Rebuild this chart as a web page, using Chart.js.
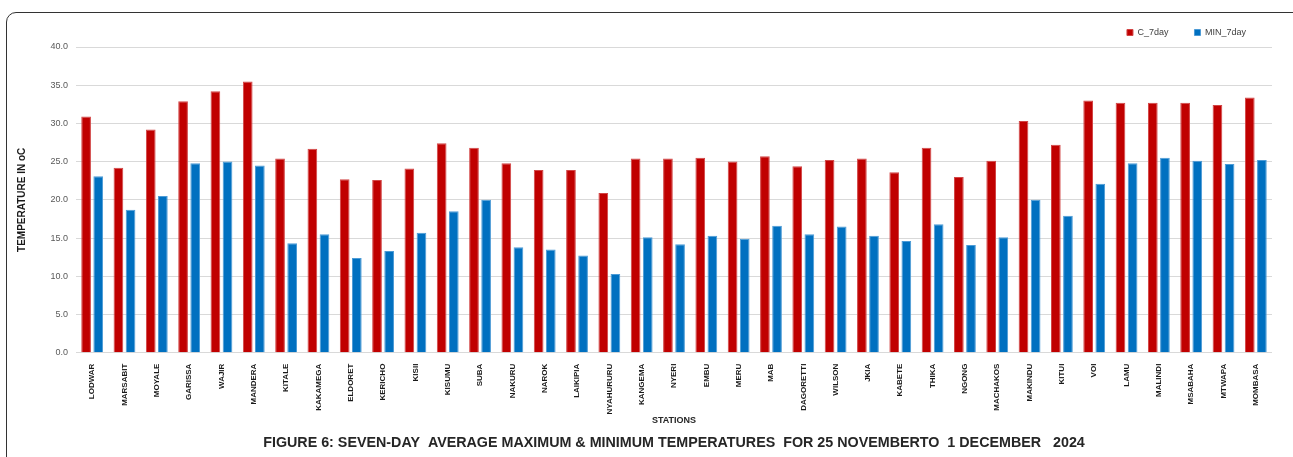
<!DOCTYPE html>
<html>
<head>
<meta charset="utf-8">
<script src="https://cdn.jsdelivr.net/npm/chart.js@4.4.1/dist/chart.umd.min.js"></script>
<style>
    html, body { margin: 0; padding: 0; background: #fff; overflow: hidden; }
    #frame {
        position: absolute; left: 6px; top: 12px; width: 1310px; height: 470px;
        border: 1.5px solid #333; border-top-left-radius: 10px; box-sizing: border-box;
    }
    #wrap { position: absolute; left: 0; top: 0; width: 1293px; height: 457px; }
</style>
</head>
<body>
<div id="frame"></div>
<div id="wrap"><canvas id="tempChart"></canvas></div>
<script>
// Stations and 7-day averages
const stations = ['LODWAR', 'MARSABIT', 'MOYALE', 'GARISSA', 'WAJIR', 'MANDERA', 'KITALE', 'KAKAMEGA',
    'ELDORET', 'KERICHO', 'KISII', 'KISUMU', 'SUBA', 'NAKURU', 'NAROK', 'LAIKIPIA', 'NYAHURURU',
    'KANGEMA', 'NYERI', 'EMBU', 'MERU', 'MAB', 'DAGORETTI', 'WILSON', 'JKIA', 'KABETE', 'THIKA',
    'NGONG', 'MACHAKOS', 'MAKINDU', 'KITUI', 'VOI', 'LAMU', 'MALINDI', 'MSABAHA', 'MTWAPA', 'MOMBASA'];

const maxTemps = [30.9, 24.2, 29.2, 32.9, 34.2, 35.5, 25.4, 26.7, 22.7, 22.6, 24.1, 27.4, 26.8,
    24.8, 23.9, 23.9, 20.9, 25.4, 25.4, 25.5, 25.0, 25.7, 24.4, 25.2, 25.4, 23.6, 26.8,
    23.0, 25.1, 30.3, 27.2, 33.0, 32.7, 32.7, 32.7, 32.4, 33.4];

const minTemps = [23.1, 18.7, 20.5, 24.8, 25.0, 24.5, 14.3, 15.5, 12.4, 13.3, 15.7, 18.5, 20.0,
    13.8, 13.5, 12.7, 10.3, 15.1, 14.2, 15.3, 14.9, 16.6, 15.5, 16.5, 15.3, 14.6, 16.8,
    14.1, 15.1, 20.0, 17.9, 22.1, 24.8, 25.5, 25.1, 24.7, 25.2];

const yTicks = [0, 5, 10, 15, 20, 25, 30, 35, 40];

const ctx = document.getElementById('tempChart');

const tempChart = new Chart(ctx, {
    type: 'bar',
    data: {
        labels: stations,
        datasets: [{
            label: 'C_7day',
            data: maxTemps,
            backgroundColor: '#C00000',
            borderColor: '#D24545',
            borderWidth: 1,
            categoryPercentage: 0.75,
            barPercentage: 0.8
        }, {
            label: 'MIN_7day',
            data: minTemps,
            backgroundColor: '#0070C0',
            borderColor: '#4C9BD6',
            borderWidth: 1,
            categoryPercentage: 0.75,
            barPercentage: 0.8
        }]
    },
    options: {
        responsive: true,
        maintainAspectRatio: false,
        animation: false,
        layout: {
            padding: { left: 13, right: 21, top: 2, bottom: 1.6 }
        },
        plugins: {
            legend: {
                position: 'top',
                align: 'end',
                labels: {
                    boxWidth: 6,
                    boxHeight: 6,
                    padding: 26,
                    color: '#404040',
                    font: { family: 'Liberation Sans', size: 9 }
                }
            },
            title: {
                display: true,
                position: 'bottom',
                fullSize: false,
                text: 'FIGURE 6: SEVEN-DAY  AVERAGE MAXIMUM & MINIMUM TEMPERATURES  FOR 25 NOVEMBERTO  1 DECEMBER   2024',
                color: '#262626',
                padding: { top: 4, bottom: 4 },
                font: { family: 'Liberation Sans', size: 14.3, weight: 'bold' }
            },
            tooltip: { enabled: false }
        },
        scales: {
            x: {
                grid: { display: false },
                border: { display: false },
                ticks: {
                    autoSkip: false,
                    maxRotation: 90,
                    minRotation: 90,
                    padding: 3,
                    color: '#1a1a1a',
                    font: { family: 'Liberation Sans', size: 8, weight: 'bold' }
                },
                title: {
                    display: true,
                    text: 'STATIONS',
                    color: '#262626',
                    padding: { top: 2, bottom: 4 },
                    font: { family: 'Liberation Sans', size: 9, weight: 'bold' }
                },
                afterFit: function(scale) {
                    scale.height = 77.6;
                }
            },
            y: {
                min: 0,
                max: 40,
                afterBuildTicks: function(scale) {
                    scale.ticks = yTicks.map(v => ({ value: v }));
                },
                grid: { color: '#d9d9d9', lineWidth: 1, drawTicks: false },
                border: { display: false },
                ticks: {
                    padding: 8,
                    color: '#595959',
                    font: { family: 'Liberation Sans', size: 9 },
                    callback: function(value) {
                        return Number(value).toFixed(1);
                    }
                },
                title: {
                    display: true,
                    text: 'TEMPERATURE IN oC',
                    color: '#1a1a1a',
                    padding: 3,
                    font: { family: 'Liberation Sans', size: 10, weight: 'bold' }
                },
                afterFit: function(scale) {
                    scale.width = 63;
                }
            }
        }
    }
});
</script>
</body>
</html>
